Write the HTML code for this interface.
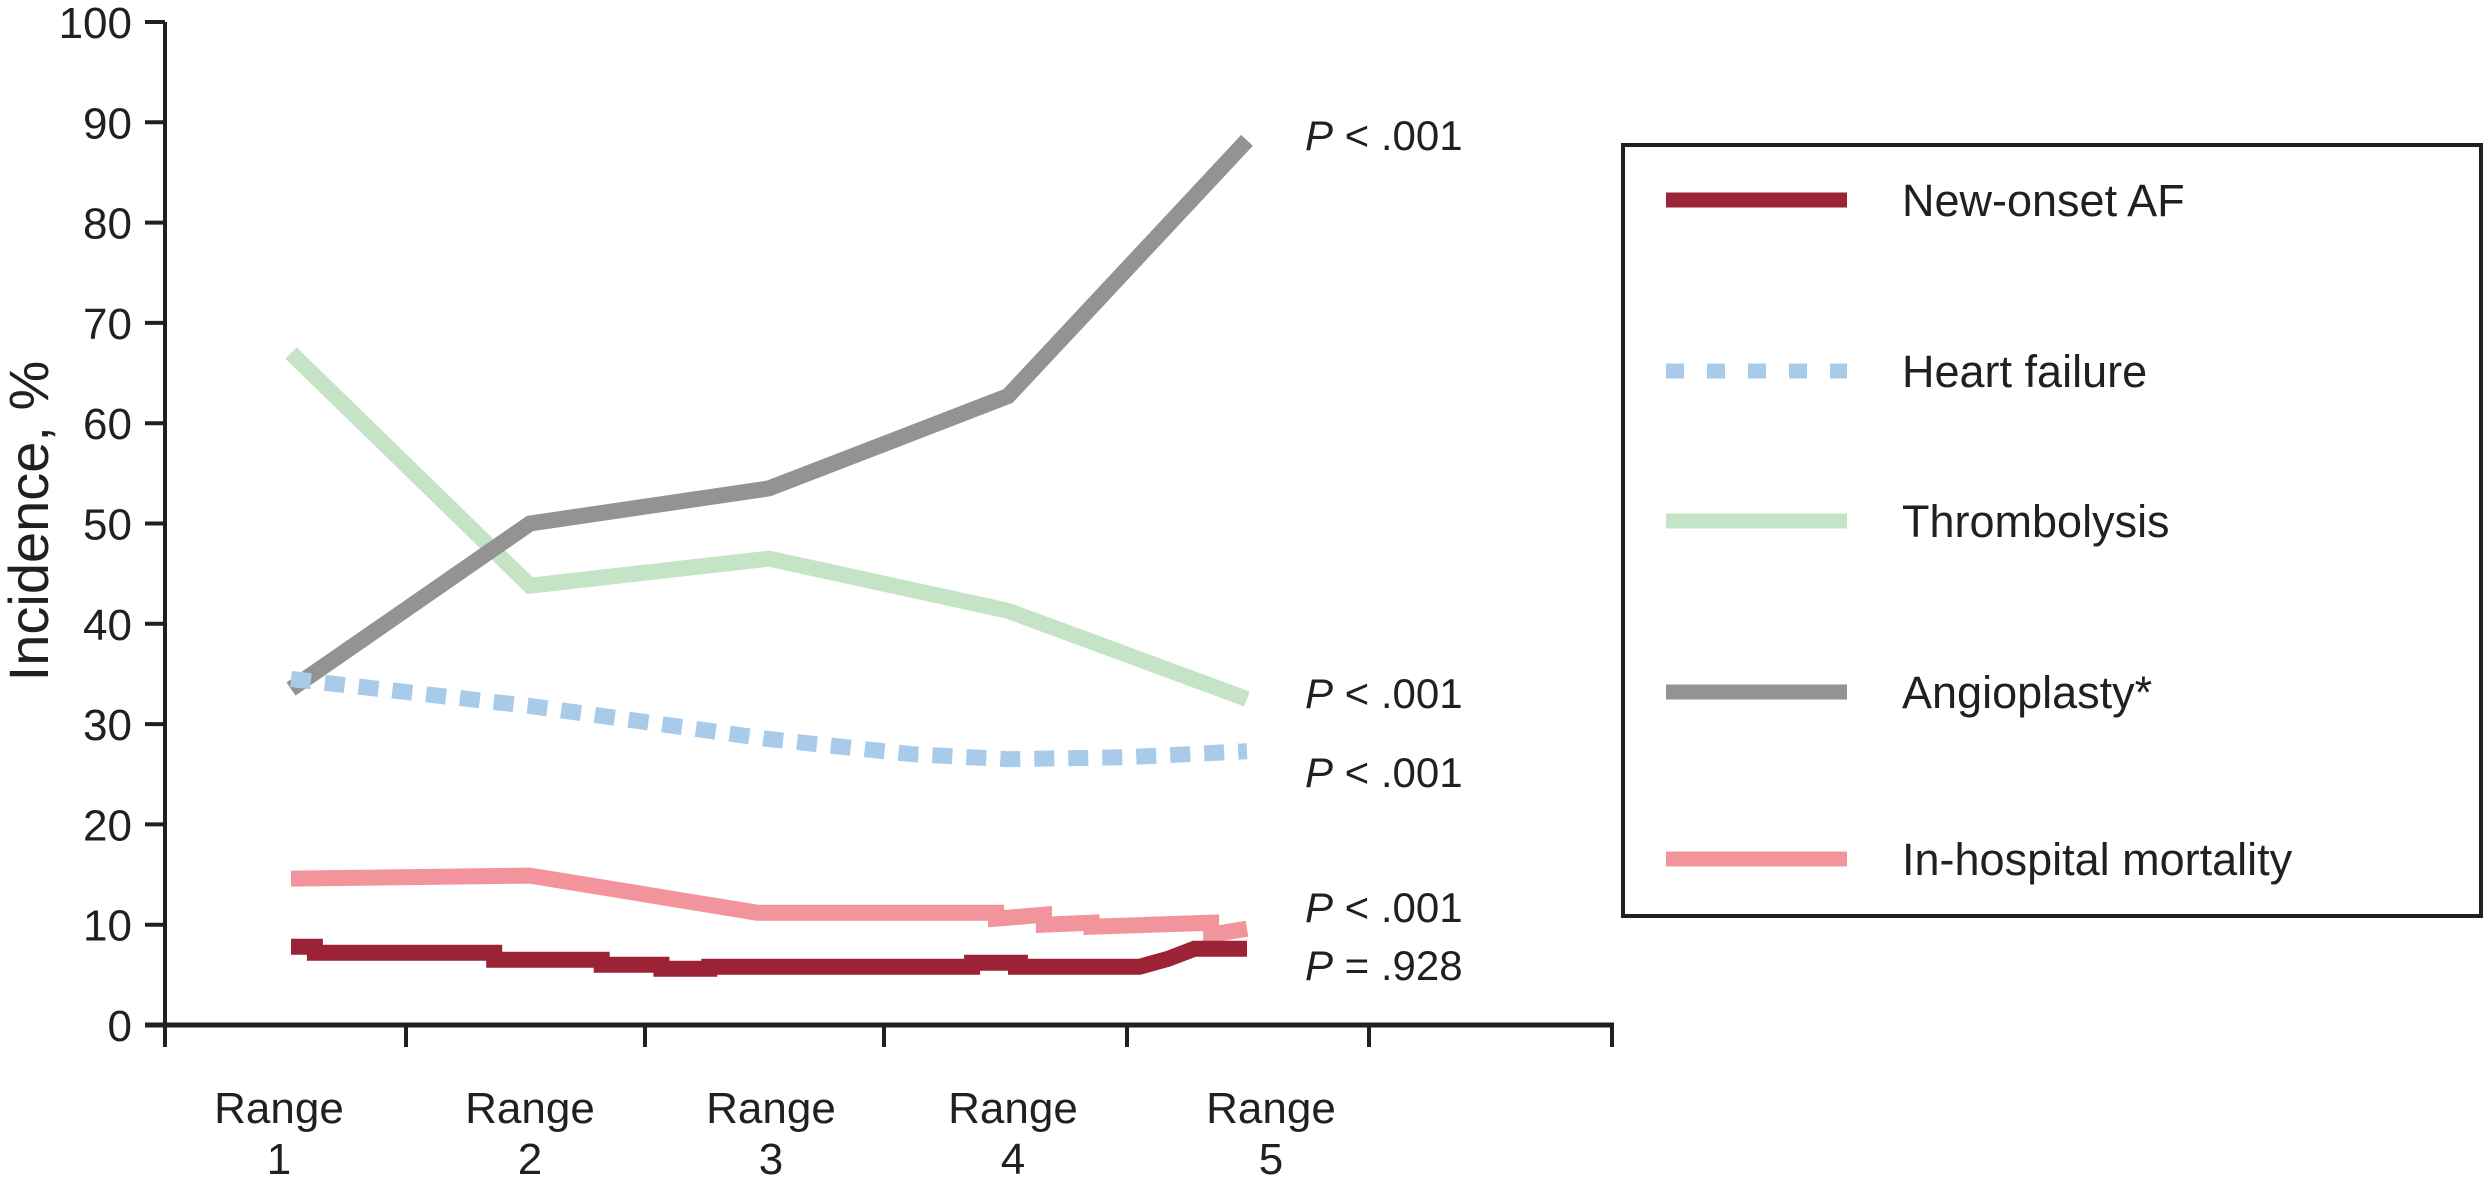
<!DOCTYPE html>
<html><head><meta charset="utf-8"><style>
body{margin:0;background:#fff}
svg{display:block;font-family:"Liberation Sans",Arial,sans-serif}
</style></head><body>
<svg id="chart" width="2484" height="1184" viewBox="0 0 2484 1184"></svg>
<script>
const categories = ["1","2","3","4","5"];
const yTicks = [0,10,20,30,40,50,60,70,80,90,100];
const angioplastyX = [1,2,3,4,5];
const angioplastyY = [33.5,50.0,53.5,62.7,88.2];
const thrombolysisX = [1,2,3,4,5];
const thrombolysisY = [67.0,43.8,46.5,41.3,32.5];
const heartFailureX = [1,2,3,3.6,4,4.5,5];
const heartFailureY = [34.5,31.8,28.5,27.0,26.5,26.7,27.3];
const mortalityX = [1,2,2.95,3.95,3.95,4.15,4.15,4.35,4.35,4.85,4.85,5];
const mortalityY = [14.6,14.9,11.2,11.2,10.6,11.0,10.0,10.2,9.8,10.2,9.0,9.6];
const afX = [1,1.1,1.1,1.85,1.85,2.3,2.3,2.55,2.55,2.75,2.75,3.0,3.0,3.85,3.85,4.05,4.05,4.0,4.55,4.67,4.78,5];
const afY = [7.8,7.8,7.2,7.2,6.5,6.5,6.0,6.0,5.6,5.6,5.8,5.8,5.8,5.8,6.2,6.2,5.8,5.8,5.8,6.6,7.6,7.6];
const pLabels = ["< .001","< .001","< .001","< .001","= .928"];
const pLabelY = [148,706,785,920,978];

const NS="http://www.w3.org/2000/svg";
const svg=document.getElementById('chart');
const xS=c=>291+(c-1)*239;
const yS=v=>1025-v*10.03;
function mk(tag,attrs,parent){const e=document.createElementNS(NS,tag);for(const k in attrs)e.setAttribute(k,attrs[k]);(parent||svg).appendChild(e);return e;}

const ya=mk('line',{x1:165,y1:yS(100),x2:165,y2:1047,stroke:'#231f20','stroke-width':4});


const xa=mk('line',{x1:145,y1:yS(0),x2:1614,y2:yS(0),stroke:'#231f20','stroke-width':5});


yTicks.forEach(t=>{
  const l=mk('line',{x1:145,y1:yS(t),x2:165,y2:yS(t),stroke:'#231f20','stroke-width':4});
  
  
  const tx=mk('text',{x:132,y:yS(t)+16,'text-anchor':'end','font-size':44,fill:'#231f20'});
  tx.textContent=t;
  
  
});
[165,406,645,884,1127,1369,1612].forEach(x=>{
  const l=mk('line',{x1:x,y1:yS(0),x2:x,y2:1047,stroke:'#231f20','stroke-width':4});
  
  
});
const labelX=[279,530,771,1013,1271];
categories.forEach((c,i)=>{
  const t=mk('text',{x:labelX[i],y:1123,'text-anchor':'middle','font-size':44,fill:'#231f20'});
  t.textContent='Range';
  
  
  const t2=mk('text',{x:labelX[i],y:1174,'text-anchor':'middle','font-size':44,fill:'#231f20'});
  t2.textContent=c;
  
  
});
const yt=mk('text',{x:0,y:0,transform:'translate(48,521) rotate(-90)','text-anchor':'middle','font-size':56,fill:'#231f20'});
yt.textContent='Incidence, %';



function series(xs,ys,color,name,dash){
  const pts=xs.map((x,i)=>xS(x).toFixed(1)+','+yS(ys[i]).toFixed(1)).join(' ');
  const p=mk('polyline',{points:pts,fill:'none',stroke:color,'stroke-width':16,'stroke-linejoin':'miter'});
  if(dash)p.setAttribute('stroke-dasharray',dash);
  
  
}
series(thrombolysisX,thrombolysisY,'#c5e4c6','thrombolysis-line');
series(angioplastyX,angioplastyY,'#939393','angioplasty-line');
series(heartFailureX,heartFailureY,'#a9cbea','heart-failure-line','20 14');
series(mortalityX,mortalityY,'#f2949b','mortality-line');
series(afX,afY,'#9b2335','new-onset-af-line');

pLabels.forEach((s,i)=>{
  const t=mk('text',{x:1305,y:pLabelY[i]+2,'font-size':42,fill:'#231f20'});
  const a=mk('tspan',{'font-style':'italic'},t);a.textContent='P';
  const b=mk('tspan',{},t);b.textContent=' '+s;
  
  
});

const lg=mk('rect',{x:1623,y:145,width:858,height:771,fill:'#fff',stroke:'#231f20','stroke-width':4});


const legNames=['New-onset AF','Heart failure','Thrombolysis','Angioplasty*','In-hospital mortality'];
const legColors=['#9b2335','#a9cbea','#c5e4c6','#939393','#f2949b'];
const legY=[200,371,521,692,859];
legNames.forEach((n,i)=>{
  const l=mk('line',{x1:1666,y1:legY[i],x2:1847,y2:legY[i],stroke:legColors[i],'stroke-width':15});
  if(i===1)l.setAttribute('stroke-dasharray','18 23');
  
  
  const t=mk('text',{x:1902,y:legY[i]+16,'font-size':45,fill:'#231f20'});
  t.textContent=n;
  
  
});
</script>
</body></html>
